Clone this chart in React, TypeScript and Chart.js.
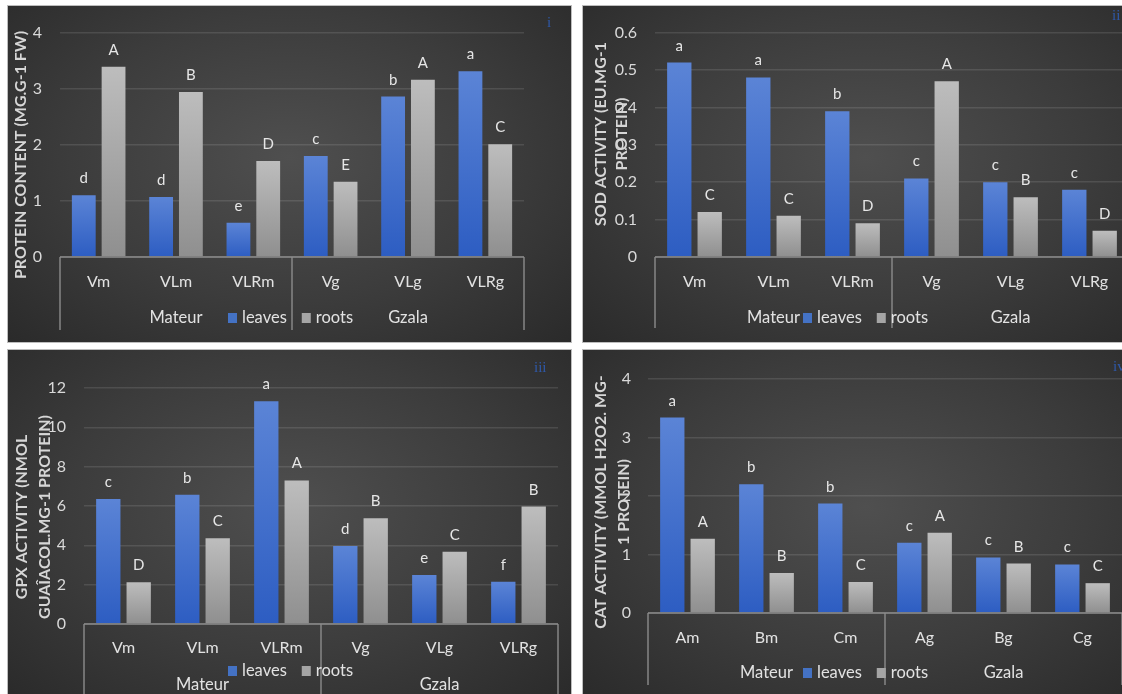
import React, { useEffect, useRef } from 'react';
import { Chart, registerables } from 'chart.js';

Chart.register(...registerables);

// ---------- DATA ----------
const seriesNames = ['leaves', 'roots'];
const locationNames = ['Mateur', 'Gzala'];

const proteinCategories = ['Vm', 'VLm', 'VLRm', 'Vg', 'VLg', 'VLRg'];
const proteinLeaves = [1.1, 1.07, 0.61, 1.8, 2.86, 3.31];
const proteinRoots = [3.39, 2.94, 1.71, 1.34, 3.16, 2.01];
const proteinLeavesLetters = ['d', 'd', 'e', 'c', 'b', 'a'];
const proteinRootsLetters = ['A', 'B', 'D', 'E', 'A', 'C'];
const proteinTicks = [0, 1, 2, 3, 4];
const proteinTitle = ['PROTEIN CONTENT (MG.G-1 FW)'];

const sodCategories = ['Vm', 'VLm', 'VLRm', 'Vg', 'VLg', 'VLRg'];
const sodLeaves = [0.52, 0.48, 0.39, 0.21, 0.2, 0.18];
const sodRoots = [0.12, 0.11, 0.09, 0.47, 0.16, 0.07];
const sodLeavesLetters = ['a', 'a', 'b', 'c', 'c', 'c'];
const sodRootsLetters = ['C', 'C', 'D', 'A', 'B', 'D'];
const sodTicks = [0, 0.1, 0.2, 0.3, 0.4, 0.5, 0.6];
const sodTitle = ['SOD ACTIVITY (EU.MG-1', 'PROTEIN)'];

const gpxCategories = ['Vm', 'VLm', 'VLRm', 'Vg', 'VLg', 'VLRg'];
const gpxLeaves = [6.35, 6.57, 11.32, 3.97, 2.49, 2.15];
const gpxRoots = [2.12, 4.36, 7.3, 5.38, 3.68, 5.97];
const gpxLeavesLetters = ['c', 'b', 'a', 'd', 'e', 'f'];
const gpxRootsLetters = ['D', 'C', 'A', 'B', 'C', 'B'];
const gpxTicks = [0, 2, 4, 6, 8, 10, 12];
const gpxTitle = ['GPX ACTIVITY (NMOL', 'GUAÎACOL.MG-1 PROTEIN)'];

const catCategories = ['Am', 'Bm', 'Cm', 'Ag', 'Bg', 'Cg'];
const catLeaves = [3.34, 2.2, 1.87, 1.2, 0.95, 0.83];
const catRoots = [1.27, 0.685, 0.53, 1.37, 0.845, 0.51];
const catLeavesLetters = ['a', 'b', 'b', 'c', 'c', 'c'];
const catRootsLetters = ['A', 'B', 'C', 'A', 'B', 'C'];
const catTicks = [0, 1, 2, 3, 4];
const catTitle = ['CAT ACTIVITY (MMOL H2O2. MG-', '1 PROTEIN)'];

// ---------- STYLE / LAYOUT ----------
const FONT = 'Lato, "Open Sans", sans-serif';
const BLUE_TOP = '#5b84d6';
const BLUE_BOTTOM = '#2d5dc2';
const GRAY_TOP = '#bdbdbd';
const GRAY_BOTTOM = '#8f8f8f';
const LEGEND_COLORS = ['#4472c4', '#a5a5a5'];

type PanelCfg = {
  left: number; top: number; width: number; height: number;
  area: { left: number; right: number; top: number; bottom: number };
  tickPad: number;
  title: string[]; titleX: number[]; titleY: number;
  catY: number; legendY: number; groupY: number; boxBottom: number;
  roman: string; romanX: number; romanY: number;
  cats: string[]; leaves: number[]; roots: number[];
  leavesLetters: string[]; rootsLetters: string[]; ticks: number[];
};

const panels: PanelCfg[] = [
  {
    left: 7, top: 5, width: 565, height: 338,
    area: { left: 53, right: 517, top: 16, bottom: 252 }, tickPad: 18,
    title: proteinTitle, titleX: [14], titleY: 150,
    catY: 277, legendY: 313, groupY: 313, boxBottom: 325,
    roman: 'i', romanX: 540, romanY: 18,
    cats: proteinCategories, leaves: proteinLeaves, roots: proteinRoots,
    leavesLetters: proteinLeavesLetters, rootsLetters: proteinRootsLetters, ticks: proteinTicks,
  },
  {
    left: 582, top: 5, width: 568, height: 338,
    area: { left: 73, right: 547, top: 24, bottom: 252 }, tickPad: 18,
    title: sodTitle, titleX: [19, 40], titleY: 129,
    catY: 277, legendY: 313, groupY: 313, boxBottom: 323,
    roman: 'ii', romanX: 530, romanY: 11,
    cats: sodCategories, leaves: sodLeaves, roots: sodRoots,
    leavesLetters: sodLeavesLetters, rootsLetters: sodRootsLetters, ticks: sodTicks,
  },
  {
    left: 7, top: 349, width: 565, height: 350,
    area: { left: 77, right: 551, top: 39, bottom: 275 }, tickPad: 18,
    title: gpxTitle, titleX: [14.5, 38], titleY: 168,
    catY: 299, legendY: 322, groupY: 336, boxBottom: 350,
    roman: 'iii', romanX: 527, romanY: 19,
    cats: gpxCategories, leaves: gpxLeaves, roots: gpxRoots,
    leavesLetters: gpxLeavesLetters, rootsLetters: gpxRootsLetters, ticks: gpxTicks,
  },
  {
    left: 582, top: 349, width: 568, height: 350,
    area: { left: 66, right: 540, top: 30, bottom: 264 }, tickPad: 17,
    title: catTitle, titleX: [18.5, 41.5], titleY: 153,
    catY: 289, legendY: 324, groupY: 324, boxBottom: 336,
    roman: 'iv', romanX: 531, romanY: 18,
    cats: catCategories, leaves: catLeaves, roots: catRoots,
    leavesLetters: catLeavesLetters, rootsLetters: catRootsLetters, ticks: catTicks,
  },
];

function barGradient(top: string, bottom: string) {
  return (c: any) => {
    const chart = c.chart;
    if (!chart.chartArea || c.type !== 'data' || !chart.scales.y) return bottom;
    const y = chart.scales.y.getPixelForValue(c.raw);
    const y0 = chart.scales.y.getPixelForValue(0);
    if (!isFinite(y) || !isFinite(y0) || y === y0) return bottom;
    const g = chart.ctx.createLinearGradient(0, y, 0, y0);
    g.addColorStop(0, top);
    g.addColorStop(1, bottom);
    return g;
  };
}

const decorPlugin = {
  id: 'decor',
  afterDraw(chart: any, _args: any, opts: any) {
    const cfg: PanelCfg = opts.cfg;
    if (!cfg) return;
    const { ctx, chartArea: a } = chart;
    const xs = chart.scales.x;
    const n = cfg.cats.length;
    const half = n / 2;
    const mid = (xs.getPixelForValue(half - 1) + xs.getPixelForValue(half)) / 2;
    const lines = [a.left, mid, a.right];
    ctx.save();

    // baseline and category box
    ctx.strokeStyle = '#8c8c8c';
    ctx.lineWidth = 1.4;
    ctx.beginPath();
    ctx.moveTo(a.left, a.bottom);
    ctx.lineTo(a.right, a.bottom);
    for (const lx of lines) {
      ctx.moveTo(lx, a.bottom);
      ctx.lineTo(lx, cfg.boxBottom);
    }
    ctx.stroke();

    // category labels
    ctx.fillStyle = '#e2e2e2';
    ctx.font = `16px ${FONT}`;
    ctx.textAlign = 'center';
    ctx.textBaseline = 'middle';
    cfg.cats.forEach((c, i) => ctx.fillText(c, xs.getPixelForValue(i), cfg.catY));

    // group labels
    ctx.font = `16.5px ${FONT}`;
    ctx.fillText(locationNames[0], (lines[0] + lines[1]) / 2, cfg.groupY);
    ctx.fillText(locationNames[1], (lines[1] + lines[2]) / 2, cfg.groupY);

    // legend
    ctx.textAlign = 'left';
    let lx = 221;
    seriesNames.forEach((name, i) => {
      ctx.fillStyle = LEGEND_COLORS[i];
      ctx.fillRect(lx, cfg.legendY - 5, 9, 10);
      ctx.fillStyle = '#e2e2e2';
      ctx.fillText(name, lx + 14, cfg.legendY);
      lx += 14 + ctx.measureText(name).width + 15;
    });

    // significance letters
    ctx.textAlign = 'center';
    ctx.textBaseline = 'alphabetic';
    ctx.font = `15px ${FONT}`;
    ctx.fillStyle = '#e6e6e6';
    const letterSets = [cfg.leavesLetters, cfg.rootsLetters];
    chart.data.datasets.forEach((_ds: any, di: number) => {
      const meta = chart.getDatasetMeta(di);
      meta.data.forEach((el: any, i: number) => {
        ctx.fillText(letterSets[di][i], el.x, el.y - 12);
      });
    });

    // axis title
    ctx.font = `bold 16px ${FONT}`;
    ctx.fillStyle = '#d6d6d6';
    ctx.textBaseline = 'middle';
    cfg.title.forEach((t, i) => {
      ctx.save();
      ctx.translate(cfg.titleX[i], cfg.titleY);
      ctx.rotate(-Math.PI / 2);
      ctx.fillText(t, 0, 0);
      ctx.restore();
    });

    // panel numeral
    ctx.font = `15px "Liberation Serif", "DejaVu Serif", serif`;
    ctx.fillStyle = '#2f58a8';
    ctx.textAlign = 'left';
    ctx.fillText(cfg.roman, cfg.romanX, cfg.romanY);

    ctx.restore();
  },
};

function Panel({ cfg }: { cfg: PanelCfg }) {
  const ref = useRef<HTMLCanvasElement | null>(null);
  useEffect(() => {
    if (!ref.current) return;
    const ticks = cfg.ticks;
    const chart = new Chart(ref.current, {
      type: 'bar',
      data: {
        labels: cfg.cats,
        datasets: [
          { label: seriesNames[0], data: cfg.leaves, backgroundColor: barGradient(BLUE_TOP, BLUE_BOTTOM), borderWidth: 0 },
          { label: seriesNames[1], data: cfg.roots, backgroundColor: barGradient(GRAY_TOP, GRAY_BOTTOM), borderWidth: 0 },
        ],
      },
      options: {
        responsive: false,
        animation: false,
        events: [],
        datasets: { bar: { categoryPercentage: 0.77, barPercentage: 0.8 } },
        layout: {
          padding: {
            left: 0,
            top: cfg.area.top,
            right: cfg.width - cfg.area.right,
            bottom: cfg.height - cfg.area.bottom,
          },
        },
        plugins: {
          legend: { display: false },
          tooltip: { enabled: false },
          decor: { cfg },
        } as any,
        scales: {
          x: {
            grid: { display: false },
            border: { display: false },
            ticks: { display: false },
            afterFit: (s: any) => { s.height = 0; },
          },
          y: {
            min: ticks[0],
            max: ticks[ticks.length - 1],
            afterFit: (s: any) => { s.width = cfg.area.left; },
            afterBuildTicks: (s: any) => { s.ticks = ticks.map((v) => ({ value: v })); },
            grid: { color: 'rgba(255,255,255,0.11)', lineWidth: 1.5, drawTicks: false },
            border: { display: false },
            ticks: {
              padding: cfg.tickPad,
              color: '#d9d9d9',
              font: { family: FONT, size: 16 },
              callback: (v: any) => String(v),
            },
          },
        },
      },
      plugins: [decorPlugin as any],
    });
    return () => chart.destroy();
  }, [cfg]);

  return (
    <div
      style={{
        position: 'absolute',
        left: cfg.left,
        top: cfg.top,
        width: cfg.width,
        height: cfg.height,
        background: 'radial-gradient(ellipse at 50% 45%, #4f4f4f 0%, #3c3c3c 55%, #2a2a2a 100%)',
        boxShadow: 'inset 0 0 0 1px #bdbdbd',
        overflow: 'hidden',
      }}
    >
      <canvas
        ref={ref}
        width={cfg.width}
        height={cfg.height}
        style={{ position: 'absolute', left: 0, top: 0, width: cfg.width, height: cfg.height }}
      />
    </div>
  );
}

export default function App() {
  return (
    <div
      style={{
        position: 'fixed',
        left: 0,
        top: 0,
        width: 1122,
        height: 694,
        background: '#ffffff',
        overflow: 'hidden',
      }}
    >
      {panels.map((p, i) => (
        <Panel key={i} cfg={p} />
      ))}
    </div>
  );
}
